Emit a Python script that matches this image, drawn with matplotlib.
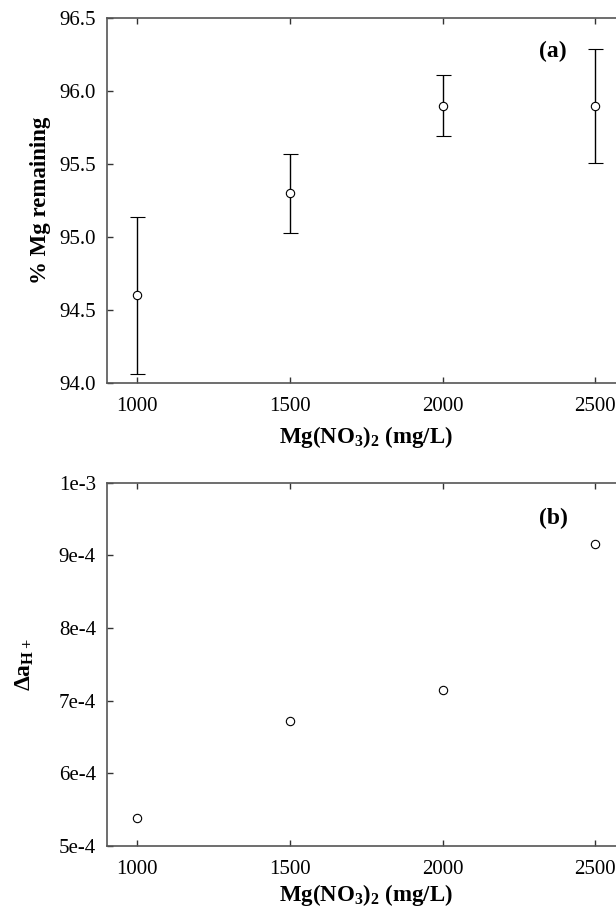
import matplotlib
matplotlib.use("Agg")
import matplotlib.pyplot as plt
from matplotlib.ticker import FixedLocator, FixedFormatter

plt.rcParams["font.family"] = ["Liberation Serif", "DejaVu Serif"]
plt.rcParams["mathtext.fontset"] = "custom"
plt.rcParams["mathtext.rm"] = "Liberation Serif"
plt.rcParams["mathtext.bf"] = "Liberation Serif:bold"
plt.rcParams["mathtext.it"] = "Liberation Serif:italic"

# data
conc = [1000, 1500, 2000, 2500]
mg_remaining = [94.60, 95.30, 95.90, 95.90]
mg_err = [0.54, 0.27, 0.21, 0.39]
delta_aH = [5.38e-4, 6.72e-4, 7.14e-4, 9.16e-4]

a_yticks = [94.0, 94.5, 95.0, 95.5, 96.0, 96.5]
a_yticklabels = ["94.0", "94.5", "95.0", "95.5", "96.0", "96.5"]
b_yticks = [5e-4, 6e-4, 7e-4, 8e-4, 9e-4, 1e-3]
b_yticklabels = ["5e-4", "6e-4", "7e-4", "8e-4", "9e-4", "1e-3"]
xticks = [1000, 1500, 2000, 2500]

W, H = 616, 908
fig = plt.figure(figsize=(W / 100, H / 100), dpi=100)

# axes extend past the right edge (as in the cropped original)
L, R = 107, 626
ax1 = fig.add_axes([L / W, 1 - 383 / H, (R - L) / W, (383 - 18) / H])
ax2 = fig.add_axes([L / W, 1 - 846 / H, (R - L) / W, (846 - 482.5) / H])

SPINE = "#555555"
xlab = r"Mg(NO$_{\mathbf{3}}$)$_{\mathbf{2}}$ (mg/L)"

for ax in (ax1, ax2):
    ax.set_xlim(902, 2600)
    ax.xaxis.set_major_locator(FixedLocator(xticks))
    ax.tick_params(axis="both", direction="in", length=4, width=1,
                   color="#333333", labelsize=15, top=True, right=False)
    ax.tick_params(axis="x", pad=10)
    ax.tick_params(axis="y", pad=8)
    for s in ax.spines.values():
        s.set_color(SPINE)
        s.set_linewidth(1.2)

ax1.set_xlabel(xlab, fontsize=16.5, fontweight="bold", labelpad=6)
ax2.set_xlabel(xlab, fontsize=16.5, fontweight="bold", labelpad=2)

# (a)
ax1.errorbar(conc, mg_remaining, yerr=mg_err, fmt="o", mfc="white", mec="black",
             ms=6, mew=0.8, ecolor="black", elinewidth=1.0, capsize=5.4, capthick=1.0)
ax1.set_ylim(94.0, 96.5)
ax1.yaxis.set_major_locator(FixedLocator(a_yticks))
ax1.yaxis.set_major_formatter(FixedFormatter(a_yticklabels))
ax1.set_ylabel("% Mg remaining", fontsize=16.5, fontweight="bold", labelpad=6)
ax1.text(2362, 96.27, "(a)", fontsize=17, fontweight="bold", ha="center", va="center")

# (b)
ax2.plot(conc, delta_aH, "o", mfc="white", mec="black", ms=6, mew=0.8)
ax2.set_ylim(5e-4, 1e-3)
ax2.yaxis.set_major_locator(FixedLocator(b_yticks))
ax2.yaxis.set_major_formatter(FixedFormatter(b_yticklabels))
ax2.set_ylabel(r"$\mathbf{\Delta a}_{\mathbf{H+}}$", fontsize=17, labelpad=16)
ax2.text(2362, 9.51e-4, "(b)", fontsize=17, fontweight="bold", ha="center", va="center")

fig.savefig("out.png", dpi=100)
